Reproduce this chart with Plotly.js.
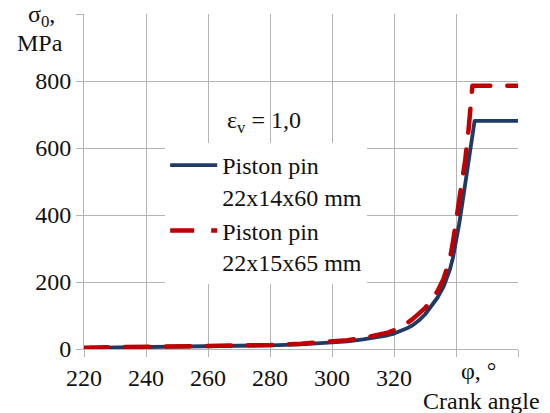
<!DOCTYPE html>
<html>
<head>
<meta charset="utf-8">
<script src="https://cdn.plot.ly/plotly-3.0.1.min.js"></script>
<style>
  html, body { margin: 0; padding: 0; background: #fff; }
  #chart { width: 550px; height: 413px; }
  .scatterlayer .js-line { stroke-linecap: round; stroke-linejoin: round; }
</style>
</head>
<body>
<div id="chart"></div>
<script>
// Crank angle, degrees
const anglePin1 = [220, 230, 240, 250, 260, 270, 280, 290, 300, 305, 310, 315, 318, 320, 322, 324, 326, 328, 330, 332, 334, 336, 337, 338, 339, 340, 341, 342, 343, 344, 345, 345.6, 346, 360];
// Stress for piston pin 22x14x60 mm, MPa
const stressPin1 = [3, 4, 5, 6, 7, 9, 11, 14, 19, 23, 29, 36, 41, 46, 53, 61, 71, 85, 103, 126, 153, 186, 208, 236, 272, 320, 372, 432, 495, 565, 635, 670, 681, 681];

const anglePin2 = [220, 230, 240, 250, 260, 270, 280, 290, 300, 305, 310, 315, 318, 320, 322, 324, 326, 328, 330, 332, 334, 336, 337, 338, 339, 340, 341, 342, 343, 344, 344.8, 345.3, 360];
// Stress for piston pin 22x15x65 mm, MPa
const stressPin2 = [4, 5, 6, 7, 8, 10, 12, 16, 21, 26, 33, 42, 49, 56, 65, 76, 89, 105, 122, 145, 172, 210, 236, 268, 318, 378, 432, 494, 566, 650, 735, 786, 786];

const xTickVals = [220, 240, 260, 280, 300, 320, 340, 360];
const xTickText = ['220', '240', '260', '280', '300', '320', '', ''];
const yTickVals = [0, 200, 400, 600, 800, 1000];
const yTickText = ['0', '200', '400', '600', '800', ''];

const serif = 'Times New Roman, Liberation Serif, DejaVu Serif, serif';
const gridColor = '#b4b4b4';

const traces = [
  {
    x: anglePin1, y: stressPin1, type: 'scatter', mode: 'lines',
    name: 'Piston pin<br>22x14x60 mm',
    line: { color: '#1f3a63', width: 3.8 }
  },
  {
    x: anglePin2, y: stressPin2, type: 'scatter', mode: 'lines',
    name: 'Piston pin<br>22x15x65 mm',
    line: { color: '#c00000', width: 4.5, dash: '24px,17px' }
  }
];

const layout = {
  width: 550, height: 413,
  margin: { l: 84, r: 32, t: 14, b: 64 },
  paper_bgcolor: '#fff', plot_bgcolor: '#fff',
  font: { family: serif, size: 24, color: '#111' },
  showlegend: true,
  legend: {
    x: 0.187, y: 0.615, xanchor: 'left', yanchor: 'top',
    bgcolor: '#fff', borderwidth: 0,
    font: { family: serif, size: 24, color: '#111' },
    valign: 'top', tracegroupgap: 8, itemwidth: 47
  },
  xaxis: {
    range: [220, 360], tickvals: xTickVals, ticktext: xTickText,
    tickfont: { family: serif, size: 24, color: '#111' },
    showgrid: true, gridcolor: gridColor, gridwidth: 1,
    showline: true, linecolor: gridColor, linewidth: 1, mirror: false,
    ticks: 'outside', ticklen: 7, tickcolor: gridColor, tickwidth: 1,
    zeroline: false, fixedrange: true
  },
  yaxis: {
    range: [0, 1000], tickvals: yTickVals, ticktext: yTickText,
    tickfont: { family: serif, size: 24, color: '#111' },
    showgrid: true, gridcolor: gridColor, gridwidth: 1,
    showline: true, linecolor: gridColor, linewidth: 1,
    ticks: 'outside', ticklen: 7, tickcolor: gridColor, tickwidth: 1,
    zeroline: false, fixedrange: true
  },
  annotations: [
    { xref: 'paper', yref: 'paper', x: -0.097, y: 0.994, text: 'σ<sub>0</sub>,', showarrow: false, xanchor: 'center', yanchor: 'middle' },
    { xref: 'paper', yref: 'paper', x: -0.101, y: 0.912, text: 'MPa', showarrow: false, xanchor: 'center', yanchor: 'middle' },
    { xref: 'paper', yref: 'paper', x: 0.908, y: -0.066, text: 'φ, °', showarrow: false, xanchor: 'center', yanchor: 'middle' },
    { xref: 'paper', yref: 'paper', x: 0.917, y: -0.155, text: 'Crank angle', showarrow: false, xanchor: 'center', yanchor: 'middle' },
    { xref: 'paper', yref: 'paper', x: 0.415, y: 0.678, text: 'ε<sub>v</sub> = 1,0', showarrow: false, xanchor: 'center', yanchor: 'middle' }
  ]
};

Plotly.newPlot('chart', traces, layout, { displayModeBar: false, staticPlot: true });
</script>
</body>
</html>
